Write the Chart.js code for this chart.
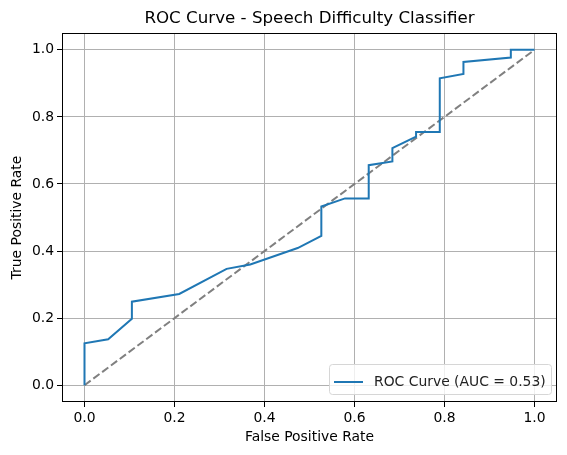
<!DOCTYPE html>
<html><head><meta charset="utf-8">
<script src="https://cdn.jsdelivr.net/npm/chart.js@4"></script>
<style>html,body{margin:0;padding:0;background:#fff}#wrap{width:567px;height:455px}</style>
</head><body><div id="wrap"><canvas id="c" width="567" height="455"></canvas></div>
<script>
const chartTitle = "ROC Curve - Speech Difficulty Classifier";
const xLabel = "False Positive Rate";
const yLabel = "True Positive Rate";
const legendLabel = "ROC Curve (AUC = 0.53)";
const fpr = [0, 0, 0.0526, 0.1053, 0.1053, 0.2105, 0.3158, 0.3684, 0.4737, 0.5263, 0.5263, 0.5789, 0.6316, 0.6316, 0.6842, 0.6842, 0.7368, 0.7368, 0.7895, 0.7895, 0.8421, 0.8421, 0.9474, 0.9474, 1.0];
const tpr = [0, 0.125, 0.137, 0.198, 0.249, 0.272, 0.347, 0.360, 0.409, 0.445, 0.533, 0.557, 0.557, 0.656, 0.667, 0.707, 0.741, 0.755, 0.755, 0.915, 0.928, 0.964, 0.977, 1.0, 1.0];
const chanceX = [0, 1];
const chanceY = [0, 1];
const tickValues = [0, 0.2, 0.4, 0.6, 0.8, 1.0];

const FONT = "'DejaVu Sans', sans-serif";

const framePlugin = {
  id: 'frame',
  afterDatasetsDraw(chart) {
    const {ctx, chartArea: a} = chart;
    ctx.save();
    ctx.strokeStyle = '#000';
    ctx.lineWidth = 1;
    const l = Math.round(a.left) + 0.5, t = Math.round(a.top) + 0.5;
    const r = Math.round(a.right) - 0.5, b = Math.round(a.bottom) - 0.5;
    ctx.strokeRect(l, t, r - l, b - t);
    // legend
    const bx = 329.5, by = 364.5, bw = 222, bh = 30;
    ctx.fillStyle = 'rgba(255,255,255,0.8)';
    ctx.strokeStyle = '#d6d6d6';
    ctx.beginPath();
    if (ctx.roundRect) ctx.roundRect(bx, by, bw, bh, 3); else ctx.rect(bx, by, bw, bh);
    ctx.fill(); ctx.stroke();
    ctx.strokeStyle = '#1f77b4';
    ctx.lineWidth = 2;
    ctx.beginPath(); ctx.moveTo(334, 382); ctx.lineTo(363, 382); ctx.stroke();
    ctx.fillStyle = '#222';
    ctx.font = "13.9px " + FONT;
    ctx.textBaseline = 'middle';
    ctx.textAlign = 'left';
    ctx.fillText(legendLabel, 374, 382);
    ctx.restore();
  }
};

const tickCb = v => Number(v).toFixed(1);

new Chart(document.getElementById('c'), {
  type: 'scatter',
  data: {
    datasets: [
      {
        label: legendLabel,
        data: fpr.map((x, i) => ({x, y: tpr[i]})),
        showLine: true,
        borderColor: '#1f77b4',
        borderWidth: 2,
        pointRadius: 0,
        tension: 0,
        fill: false
      },
      {
        label: 'chance',
        data: chanceX.map((x, i) => ({x, y: chanceY[i]})),
        showLine: true,
        borderColor: '#808080',
        borderWidth: 2,
        borderDash: [7.7, 3.3],
        pointRadius: 0,
        fill: false
      }
    ]
  },
  options: {
    responsive: false,
    animation: false,
    devicePixelRatio: 1,
    layout: {padding: {left: 0, right: 10, top: 0, bottom: 0}},
    plugins: {
      legend: {display: false},
      tooltip: {enabled: false},
      title: {
        display: true,
        text: chartTitle,
        fullSize: false,
        color: '#000',
        font: {family: FONT, size: 16.7, weight: 'normal'},
        padding: {top: 9, bottom: 4}
      }
    },
    scales: {
      x: {
        type: 'linear',
        min: -0.05, max: 1.05,
        afterBuildTicks: s => { s.ticks = tickValues.map(v => ({value: v})); },
        afterFit: s => { s.height = 53; },
        grid: {color: '#b0b0b0', lineWidth: 1, tickColor: '#000', tickLength: 5, drawOnChartArea: true},
        border: {display: false},
        ticks: {callback: tickCb, color: '#000', font: {family: FONT, size: 13.9}, padding: 3, maxRotation: 0, autoSkip: false},
        title: {display: true, text: xLabel, color: '#000', font: {family: FONT, size: 13.9}, padding: {top: 0, bottom: 9}}
      },
      y: {
        type: 'linear',
        min: -0.05, max: 1.05,
        afterBuildTicks: s => { s.ticks = tickValues.map(v => ({value: v})); },
        afterFit: s => { s.width = 62; },
        grid: {color: '#b0b0b0', lineWidth: 1, tickColor: '#000', tickLength: 5},
        border: {display: false},
        ticks: {callback: tickCb, color: '#000', font: {family: FONT, size: 13.9}, padding: 3, autoSkip: false},
        title: {display: true, text: yLabel, color: '#000', font: {family: FONT, size: 13.9}, padding: {top: 9, bottom: 0}}
      }
    }
  },
  plugins: [framePlugin]
});
</script>
</body></html>
